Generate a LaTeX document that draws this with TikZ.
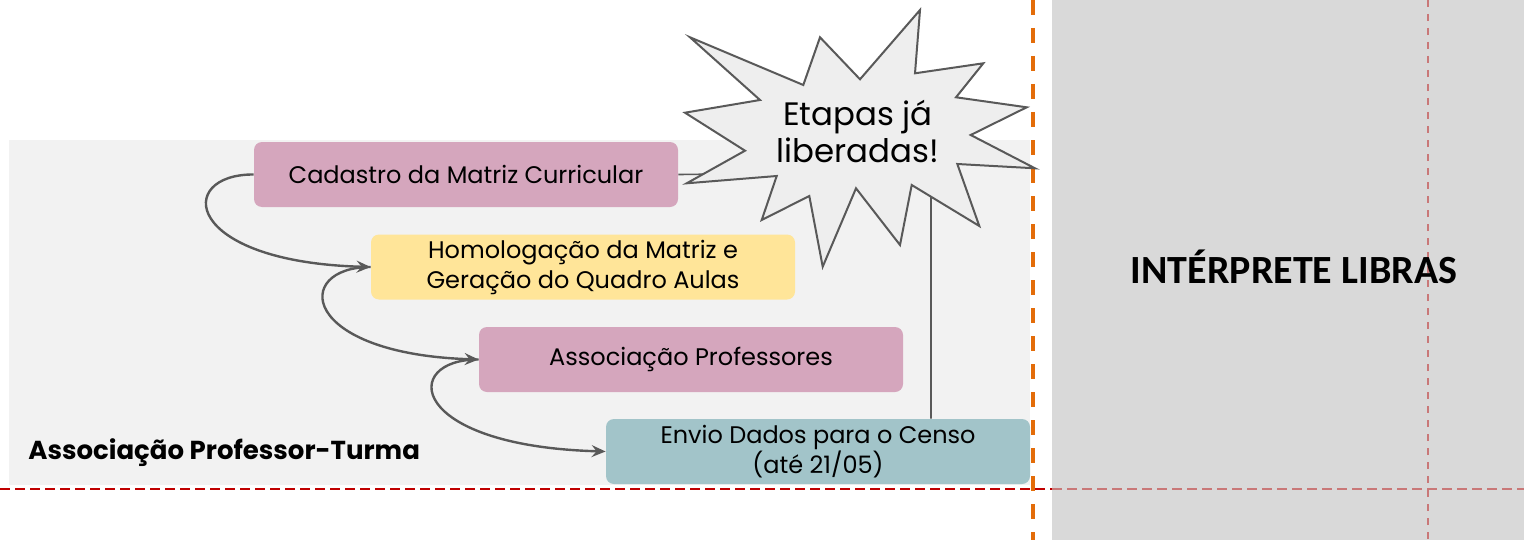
\documentclass[tikz,border=0pt]{standalone}
\usepackage{fontspec}
\setmainfont{Poppins}
\newfontfamily\calfont{Carlito}
\usetikzlibrary{arrows.meta}
\definecolor{pinkbox}{HTML}{D5A6BD}
\definecolor{yellowbox}{HTML}{FFE599}
\definecolor{tealbox}{HTML}{A2C4C9}
\definecolor{panel}{HTML}{F2F2F2}
\definecolor{dgray}{HTML}{D9D9D9}
\definecolor{linegray}{HTML}{595959}
\definecolor{starfill}{HTML}{EEEEEE}
\definecolor{orangeline}{HTML}{E36C09}
\definecolor{redline}{HTML}{C00000}
\definecolor{pinkline}{HTML}{C97878}
\tikzset{
  stepbox/.style={rounded corners=4pt, minimum width=212pt, minimum height=32.5pt,
    align=center, inner sep=2pt, font=\fontsize{12}{15}\selectfont, text=black},
  flowarrow/.style={draw=linegray, line width=1.2pt, -{Stealth[length=7pt,width=6pt,inset=2.5pt]}},
  thinline/.style={draw=linegray, line width=0.8pt},
}
\begin{document}
\begin{tikzpicture}[x=0.5pt,y=-0.5pt]
\useasboundingbox (0,0) rectangle (1524,540);
\fill[white] (0,0) rectangle (1524,540);
\fill[panel] (9,140) rectangle (1030,485);
\fill[dgray] (1052,0) rectangle (1524,540);
% dashed guide lines
\draw[redline, line width=1pt, dash pattern=on 5pt off 2.5pt] (0,489) -- (1052,489);
\draw[pinkline, line width=1pt, dash pattern=on 5pt off 2.5pt] (1052,489) -- (1524,489);
\draw[pinkline, line width=0.8pt, dash pattern=on 3.5pt off 3.5pt] (1428,0) -- (1428,540);
\draw[orangeline, line width=2pt, dash pattern=on 7.5pt off 6.5pt] (1033,0) -- (1033,540);

% boxes
\node[stepbox, fill=pinkbox] (cad) at (466,174.5) {Cadastro da Matriz Curricular};
\node[stepbox, fill=yellowbox] (hom) at (583,267) {Homologação da Matriz e\\Geração do Quadro Aulas};
\node[stepbox, fill=pinkbox] (ass) at (691,359.5) {Associação Professores};
\node[stepbox, fill=tealbox] (env) at (818,451.5) {Envio Dados para o Censo\\(até 21/05)};

% connectors to the star (behind it)
\coordinate (hub) at (931,172);
\draw[thinline] (cad.east) -- (hub) -- (env.north -| hub);

% star
\draw[linegray, line width=1pt, fill=starfill, line join=miter]
 (690,37.3) -- (803.3,85) -- (820,37.3) -- (860,79.3) -- (920,10) -- (915,73.3)
 -- (983.3,63.3) -- (956,97.3) -- (1026.7,107.3) -- (970.7,135) -- (1035,168.3)
 -- (957.3,164) -- (979.3,226) -- (911.7,185) -- (900,245) -- (856,188.3)
 -- (822.7,266.7) -- (809.3,196) -- (761.7,220) -- (776.7,176) -- (686.7,183.3)
 -- (745,150.7) -- (685,112.7) -- (760,100) -- cycle;
\node[align=center, font=\fontsize{16.2}{18.5}\selectfont] (star) at (858,131) {Etapas já\\liberadas!};

% curved arrows
\draw[flowarrow] (cad.west) .. controls (175,174) and (182,262) .. (hom.west);
\draw[flowarrow] (hom.west) .. controls (292,267) and (299,354) .. (ass.west);
\draw[flowarrow] (ass.west) .. controls (400,359) and (407,446) .. (env.west);

% labels
\node[anchor=base west, font=\fontsize{13}{15}\selectfont\bfseries, inner sep=0pt] (lab) at (28,459) {Associação Professor-Turma};
\node[font=\calfont\fontsize{20}{24}\selectfont\bfseries, inner sep=0pt] (lib) at (1294,267) {INTÉRPRETE LIBRAS};
\end{tikzpicture}
\end{document}
